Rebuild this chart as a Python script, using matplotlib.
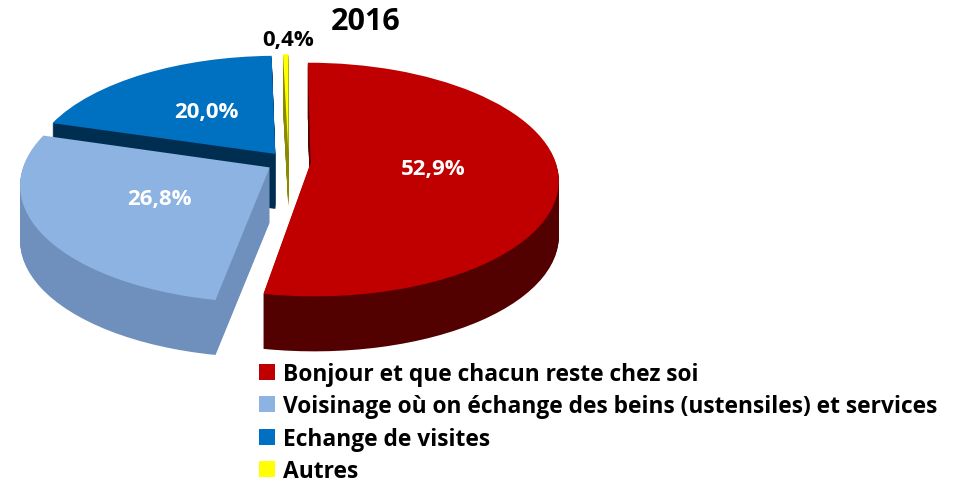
import matplotlib
matplotlib.use("Agg")
import matplotlib.pyplot as plt
from matplotlib.transforms import Affine2D, Transform
import numpy as np

# ---- data ----
categories = ["Bonjour et que chacun reste chez soi",
              "Voisinage où on échange des beins (ustensiles) et services",
              "Echange de visites",
              "Autres"]
values = [52.9, 26.8, 20.0, 0.4]
pct_labels = ["52,9%", "26,8%", "20,0%", "0,4%"]
title = "2016"

# ---- style ----
top_colors = ["#c00000", "#8db3e2", "#0070c0", "#ffff00"]
side_colors = ["#520000", "#6f90bc", "#002e50", "#8a8a00"]
label_colors = ["white", "white", "white", "black"]
explode = [0.09, 0.09, 0.09, 0.09]
depth_px = 55
k = 0.142  # perspective factor

FONT = ["Open Sans", "DejaVu Sans"]

W, H = 957, 485
fig = plt.figure(figsize=(W / 100, H / 100), dpi=100)
ax = fig.add_axes([0, 0, 1, 1])


class Perspective(Transform):
    """Simple perspective view of the pie plane (far side shrinks)."""
    input_dims = output_dims = 2
    is_separable = False
    has_inverse = False

    def transform_non_affine(self, values):
        v = np.asarray(values, dtype=float).reshape(-1, 2)
        s = 1.0 / (1.0 + k * v[:, 1])
        return np.column_stack([v[:, 0] * s, v[:, 1] * s])


persp = Perspective()

# 3D sides: stacked copies of the pie shifted downward in display space
for d in range(depth_px, 0, -1):
    ws, _ = ax.pie(values, explode=explode, colors=side_colors, startangle=90,
                   counterclock=False, wedgeprops=dict(linewidth=0))
    for w in ws:
        w.set_transform(persp + ax.transData + Affine2D().translate(0, -d))

# top faces
lab_iter = iter(pct_labels)
wedges, _, autotexts = ax.pie(values, explode=explode, colors=top_colors,
                              startangle=90, counterclock=False,
                              autopct=lambda p: next(lab_iter),
                              pctdistance=0.5,
                              wedgeprops=dict(linewidth=0))
for w in wedges:
    w.set_transform(persp + ax.transData)
for t, c in zip(autotexts, label_colors):
    t.set_color(c)
    t.set_fontsize(16)
    t.set_fontweight("bold")
    t.set_family(FONT)
    t.set_transform(persp + ax.transData)

# small slice label outside, above the slice
w = wedges[-1]
mid = np.deg2rad((w.theta1 + w.theta2) / 2)
r = 1.18
autotexts[-1].set_position((w.center[0] + r * np.cos(mid) + 0.012,
                            w.center[1] + r * np.sin(mid)))

# limits (pixel-matched)
ax.set_aspect("auto")
cx_px, cy_px, sx, sy = 288.6, 163.0, 245.0, 114.2
ax.set_xlim(-cx_px / sx, (W - cx_px) / sx)
ax.set_ylim((cy_px - H) / sy, cy_px / sy)
ax.axis("off")

fig.text(366 / W, 1 - 22 / H, title, ha="center", va="center",
         fontsize=22, fontweight="bold", family=FONT)

leg = ax.legend(wedges, categories, loc="upper left",
                bbox_to_anchor=(259 / W, 1 - 363 / H), bbox_transform=fig.transFigure,
                frameon=False, borderpad=0, borderaxespad=0,
                handlelength=0.7, handleheight=0.7, handletextpad=0.35,
                labelspacing=0.37,
                prop=dict(family=FONT, weight="bold", size=16.4))

fig.savefig("out.png", dpi=100)
